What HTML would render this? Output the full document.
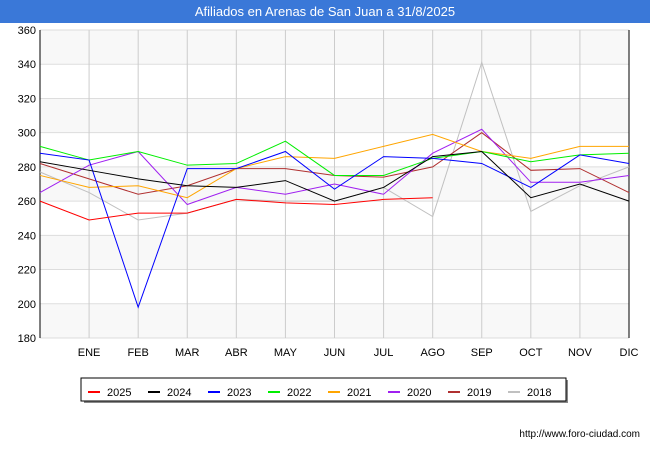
<!DOCTYPE html>
<html><head><meta charset="utf-8"><style>
body{margin:0;background:#fff;font-family:"Liberation Sans",sans-serif}
#wrap{position:relative;width:650px;height:450px}
#title{position:absolute;left:0;top:0;width:650px;height:23px;background:#3a78d8;color:#fff;font-size:13px;text-align:center;line-height:23px}
</style></head><body>
<div id="wrap">
<div id="title">Afiliados en Arenas de San Juan a 31/8/2025</div>
<svg id="svg" width="650" height="450" style="position:absolute;left:0;top:0"></svg>
</div>
<script>
const categories=["","ENE","FEB","MAR","ABR","MAY","JUN","JUL","AGO","SEP","OCT","NOV","DIC"];
const yTicks=[180,200,220,240,260,280,300,320,340,360];
const seriesNames=["2025","2024","2023","2022","2021","2020","2019","2018"];
const seriesColors=["#ff0000","#000000","#0000ff","#00ee00","#ffa500","#a020f0","#b03030","#c0c0c0"];
const s2025=[260,249,253,253,261,259,258,261,262];
const s2024=[283,278,273,269,268,272,260,268,286,289,262,270,260];
const s2023=[288,284,198,279,279,289,267,286,285,282,268,287,282];
const s2022=[292,284,289,281,282,295,275,275,285,289,283,287,288];
const s2021=[275,268,269,262,279,286,285,292,299,289,285,292,292];
const s2020=[265,281,289,258,268,264,270,264,288,302,271,271,275];
const s2019=[282,273,264,269,279,279,275,274,280,300,278,279,265];
const s2018=[277,265,249,253,261,260,260,268,251,341,254,269,280];
const allSeries=[s2025,s2024,s2023,s2022,s2021,s2020,s2019,s2018];
const X0=40,X1=629,Y0=338,Y1=30;
const xs=i=>X0+i*(X1-X0)/(categories.length-1);
const ys=v=>Y0-(v-180)*(Y0-Y1)/180;
const svg=document.getElementById('svg');const NS="http://www.w3.org/2000/svg";
function mk(t,a){const e=document.createElementNS(NS,t);for(const k in a)e.setAttribute(k,a[k]);svg.appendChild(e);return e;}
for(let i=0;i<yTicks.length-1;i++){if(i%2==0){const r=mk('rect',{x:X0,y:ys(yTicks[i+1]),width:X1-X0,height:ys(yTicks[i])-ys(yTicks[i+1]),fill:'#f8f8f8'});}}
yTicks.forEach(v=>{const l=mk('line',{x1:X0,x2:X1,y1:ys(v),y2:ys(v),stroke:'#dddddd'});
const t=mk('text',{x:X0-4,y:ys(v)+4,'text-anchor':'end','font-size':11,fill:'#000'});t.textContent=v;});
categories.forEach((c,i)=>{if(i>0){const l=mk('line',{x1:xs(i),x2:xs(i),y1:Y1,y2:Y0,stroke:'#cccccc'});}
const t=mk('text',{x:xs(i),y:Y0+18,'text-anchor':'middle','font-size':11,fill:'#000'});t.textContent=c;});
const ax=mk('polyline',{points:`${X0},${Y1} ${X0},${Y0} `,fill:'none',stroke:'#000'});
const ax2=mk('line',{x1:X1,x2:X1,y1:Y1,y2:Y0,stroke:'#000'});
for(let k=allSeries.length-1;k>=0;k--){const p=mk('polyline',{points:allSeries[k].map((v,i)=>xs(i)+','+ys(v)).join(' '),fill:'none',stroke:seriesColors[k],'stroke-width':1});}
const lb=mk('rect',{x:84,y:380,width:484,height:23,fill:'#888'});
const lg=mk('rect',{x:81,y:378,width:485,height:23,fill:'#fff',stroke:'#000'});
seriesNames.forEach((n,k)=>{const x=88+k*60;const l=mk('line',{x1:x,x2:x+12,y1:392,y2:392,stroke:seriesColors[k],'stroke-width':2});
const t=mk('text',{x:x+19,y:396,'font-size':11,fill:'#000'});t.textContent=n;});
const u=mk('text',{x:640,y:437,'text-anchor':'end','font-size':10,fill:'#000'});u.textContent='http://www.foro-ciudad.com';
</script>
</body></html>
